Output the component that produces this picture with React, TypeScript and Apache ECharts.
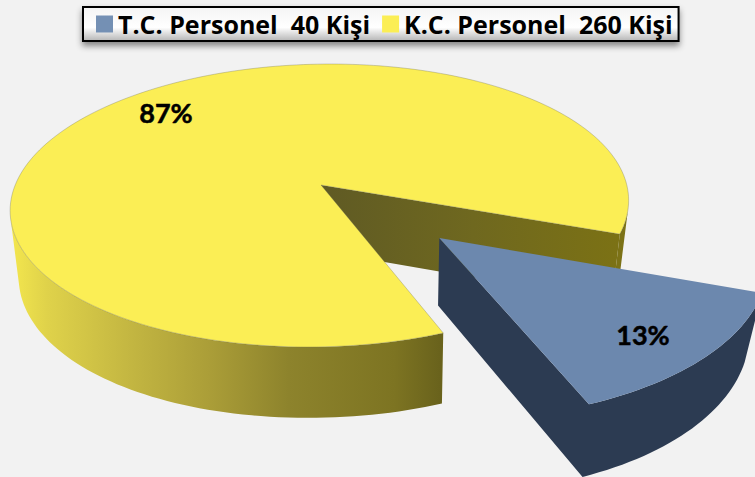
import React, { useEffect, useRef } from "react";
import * as echarts from "echarts";

const categories = ["T.C. Personel", "K.C. Personel"];
const headcounts = [40, 260];
const percentLabels = ["13%", "87%"];

const W = 755;
const H = 477;
const START_DEG = 19.7;
const EXPLODE = 0.525;
const total = headcounts.reduce((a, b) => a + b, 0);
const sweepTC = (headcounts[0] / total) * 360;
const sweepKC = (headcounts[1] / total) * 360;

type Pt = [number, number];

// Disk plane (u, v) -> screen, perspective projection of a unit disk
const project = (u: number, v: number): Pt => {
  const w = 1 - 0.1449 * v;
  return [321 + (305.8 * u - 11 * v) / w, (111.7 * v + 185) / w];
};
const lower = (p: Pt): Pt => {
  const d = p[0] - 321;
  const dx = -Math.sign(d) * (d / 300) * (d / 300) * 8;
  return [p[0] + dx, p[1] + 66 + (p[1] - 185) * 0.03];
};
const arc = (from: number, to: number, ou: number, ov: number) => {
  const pts: Pt[] = [];
  const n = Math.ceil(Math.abs(to - from) / 1.5);
  for (let i = 0; i <= n; i++) {
    const t = ((from + ((to - from) * i) / n) * Math.PI) / 180;
    pts.push(project(ou + Math.cos(t), ov + Math.sin(t)));
  }
  return pts;
};
const poly = (points: Pt[], style: any) => ({
  type: "polygon",
  shape: { points },
  style,
});
const band = (rim: Pt[]): Pt[] => [...rim, ...rim.map(lower).reverse()];

const EDGE = "rgba(110,110,90,0.55)";
const labelStyle = {
  fill: "#000",
  stroke: "#000",
  lineWidth: 0.5,
  font: "bold 27px Lato",
  align: "center",
  verticalAlign: "middle",
};

const renderKC = () => {
  const a0 = START_DEG + sweepTC;
  const a1 = START_DEG + sweepTC + sweepKC;
  const rim = arc(a0, a1, 0, 0);
  const apex = project(0, 0);
  const cut = rim[rim.length - 1];
  // Silhouette points of the visible outer wall, left and right
  let iL = 0;
  let iR = rim.length - 1;
  rim.forEach((p, i) => {
    const q = rim[iL];
    if (p[0] * 68 - p[1] * 8 < q[0] * 68 - q[1] * 8) iL = i;
    const r = rim[iR];
    if (p[0] * 68 + p[1] * 8 > r[0] * 68 + r[1] * 8) iR = i;
  });
  const wallFill = new echarts.graphic.LinearGradient(
    10, 0, 630, 0,
    [
      { offset: 0, color: "#f4e74e" },
      { offset: 0.06, color: "#dfd24a" },
      { offset: 0.2, color: "#c2b541" },
      { offset: 0.32, color: "#ab9e38" },
      { offset: 0.45, color: "#8d832c" },
      { offset: 0.62, color: "#7d7422" },
      { offset: 0.695, color: "#69621c" },
      { offset: 0.72, color: "#7a7016" },
      { offset: 1, color: "#7c7216" },
    ],
    true,
  );
  const innerFill = new echarts.graphic.LinearGradient(
    321, 0, 625, 0,
    [
      { offset: 0, color: "#5f5a24" },
      { offset: 0.5, color: "#6f681f" },
      { offset: 1, color: "#7c7214" },
    ],
    true,
  );
  return {
    type: "group",
    children: [
      poly(band(rim.slice(0, iL + 1)), { fill: wallFill }),
      poly(band(rim.slice(iR)), { fill: wallFill }),
      poly([apex, cut, lower(cut), lower(apex)], { fill: innerFill }),
      poly([apex, ...rim], { fill: "#fbee55", stroke: EDGE, lineWidth: 0.6 }),
      { type: "text", style: { ...labelStyle, x: 166, y: 112, text: percentLabels[1] } },
    ],
  };
};

const renderTC = () => {
  const a0 = START_DEG;
  const a1 = START_DEG + sweepTC;
  const mid = ((a0 + a1) / 2) * (Math.PI / 180);
  const ou = EXPLODE * Math.cos(mid);
  const ov = EXPLODE * Math.sin(mid);
  const rim = arc(a0, a1, ou, ov);
  const apex = project(ou, ov);
  const dark = "#2c3b52";
  return {
    type: "group",
    children: [
      poly([apex, lower(apex), ...rim.map(lower).reverse(), ...rim], { fill: dark }),
      poly([apex, ...rim], { fill: "#6c88ae" }),
      { type: "text", style: { ...labelStyle, x: 643, y: 334, text: percentLabels[0] } },
    ],
  };
};

const names = categories.map((c, i) => `${c}  ${headcounts[i]} Kişi`);

export default function App() {
  const ref = useRef<HTMLDivElement>(null);
  useEffect(() => {
    document.body.style.margin = "0";
    const chart = echarts.init(ref.current!, null, { renderer: "svg" });
    chart.setOption({
      animation: false,
      backgroundColor: "#f2f2f2",
      legend: {
        data: names,
        left: 83,
        top: 7,
        padding: [4, 6, 4, 13],
        itemGap: 12,
        itemWidth: 17,
        itemHeight: 17,
        selectedMode: false,
        icon: "rect",
        borderColor: "#000",
        borderWidth: 2,
        shadowColor: "rgba(0,0,0,0.45)",
        shadowBlur: 6,
        shadowOffsetY: 4,
        backgroundColor: new echarts.graphic.LinearGradient(0, 0, 0, 1, [
          { offset: 0, color: "#f4f4f4" },
          { offset: 0.6, color: "#ffffff" },
          { offset: 1, color: "#b5b5b5" },
        ]),
        textStyle: { fontFamily: "Open Sans", fontWeight: "bold", fontSize: 25, lineHeight: 26, color: "#000" },
      },
      series: [
        {
          type: "custom",
          name: names[1],
          coordinateSystem: "none",
          silent: true,
          itemStyle: { color: "#fbee55" },
          data: [[headcounts[1]]],
          renderItem: renderKC,
        },
        {
          type: "custom",
          name: names[0],
          coordinateSystem: "none",
          silent: true,
          itemStyle: { color: "#7490b4" },
          data: [[headcounts[0]]],
          renderItem: renderTC,
        },
      ],
    });
    return () => chart.dispose();
  }, []);
  return <div ref={ref} style={{ width: W, height: H, overflow: "hidden" }} />;
}
